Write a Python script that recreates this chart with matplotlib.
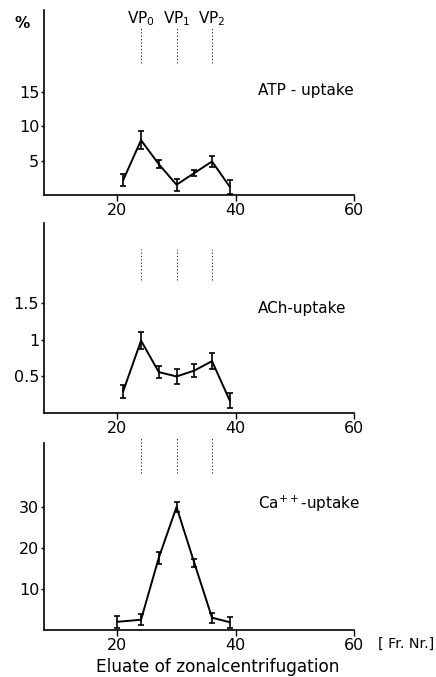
import matplotlib
matplotlib.use("Agg")
import matplotlib.pyplot as plt

# ---- data ----
fractions = [21, 24, 27, 30, 33, 36, 39]
atp = [2.2, 8.0, 4.5, 1.5, 3.2, 4.9, 1.2]
atp_err = [0.9, 1.3, 0.6, 0.9, 0.5, 0.8, 1.0]

ach = [0.30, 0.99, 0.56, 0.50, 0.58, 0.71, 0.17]
ach_err = [0.09, 0.12, 0.08, 0.10, 0.09, 0.11, 0.10]

ca_fractions = [20, 24, 27, 30, 33, 36, 39]
ca = [2.0, 2.5, 17.6, 30.0, 16.4, 3.0, 1.9]
ca_err = [1.4, 1.3, 1.5, 1.3, 1.0, 1.2, 1.3]

vp_positions = [24, 30, 36]
vp_labels = ["VP$_0$", "VP$_1$", "VP$_2$"]
x_ticks = [20, 40, 60]
atp_ticks = [5, 10, 15]
ach_ticks = [0.5, 1, 1.5]
ach_ticklabels = ["0.5", "1", "1.5"]
ca_ticks = [10, 20, 30]

W, H = 436, 677
fig = plt.figure(figsize=(W / 100, H / 100), dpi=100)
plt.rcParams['font.family'] = ['DejaVu Sans']

def add_ax(top_px, bottom_px):
    left, right = 44, 354
    return fig.add_axes([left / W, 1 - bottom_px / H, (right - left) / W, (bottom_px - top_px) / H])

def fx(px):
    return px / W

def fy(py):
    return 1 - py / H

panels = [
    dict(top=10, bottom=195, x=fractions, y=atp, e=atp_err, ylim=27.0,
         ticks=atp_ticks, tl=[str(t) for t in atp_ticks], label="ATP - uptake",
         lab_y=90, vp=(19.3, 24.4)),
    dict(top=223, bottom=413, x=fractions, y=ach, e=ach_err, ylim=2.6,
         ticks=ach_ticks, tl=ach_ticklabels, label="ACh-uptake",
         lab_y=308, vp=(1.82, 2.25)),
    dict(top=443, bottom=630, x=ca_fractions, y=ca, e=ca_err, ylim=45.6,
         ticks=ca_ticks, tl=[str(t) for t in ca_ticks], label="Ca$^{++}$-uptake",
         lab_y=504, vp=(38.3, 46.8)),
]

for i, p in enumerate(panels):
    ax = add_ax(p["top"], p["bottom"])
    ax.set_xlim(7.6, 60)
    ax.set_ylim(0, p["ylim"])
    for s in ["top", "right"]:
        ax.spines[s].set_visible(False)
    for s in ["left", "bottom"]:
        ax.spines[s].set_linewidth(1.2)
    ax.errorbar(p["x"], p["y"], yerr=p["e"], color="black", lw=1.4,
                elinewidth=1.2, capsize=2.5, capthick=1.2)
    ax.set_xticks(x_ticks)
    ax.set_yticks(p["ticks"])
    ax.set_yticklabels(p["tl"])
    ax.tick_params(axis="x", direction="out", length=4, width=1, labelsize=11.5, pad=2)
    ax.tick_params(axis="y", direction="out", length=2.5, width=1, labelsize=11.5, pad=1)
    for v in vp_positions:
        ax.plot([v, v], list(p["vp"]), color="black", lw=0.6, ls=(0, (1.5, 2.5)),
                clip_on=False)
    fig.text(fx(258), fy(p["lab_y"]), p["label"], fontsize=11, ha="left", va="center")
    if i == 0:
        for v, lab in zip(vp_positions, vp_labels):
            ax.text(v, 25.8, lab, fontsize=11, ha="center", va="center")
    if i == 2:
        fig.text(fx(434), fy(644), "[ Fr. Nr.]", fontsize=10.3, ha="right", va="center")
        fig.text(fx(218), fy(667), "Eluate of zonalcentrifugation", fontsize=12.2,
                 ha="center", va="center")

fig.text(fx(22), fy(23), "%", fontsize=11, ha="center", va="center", fontweight="bold")

fig.savefig("out.png", dpi=100)
